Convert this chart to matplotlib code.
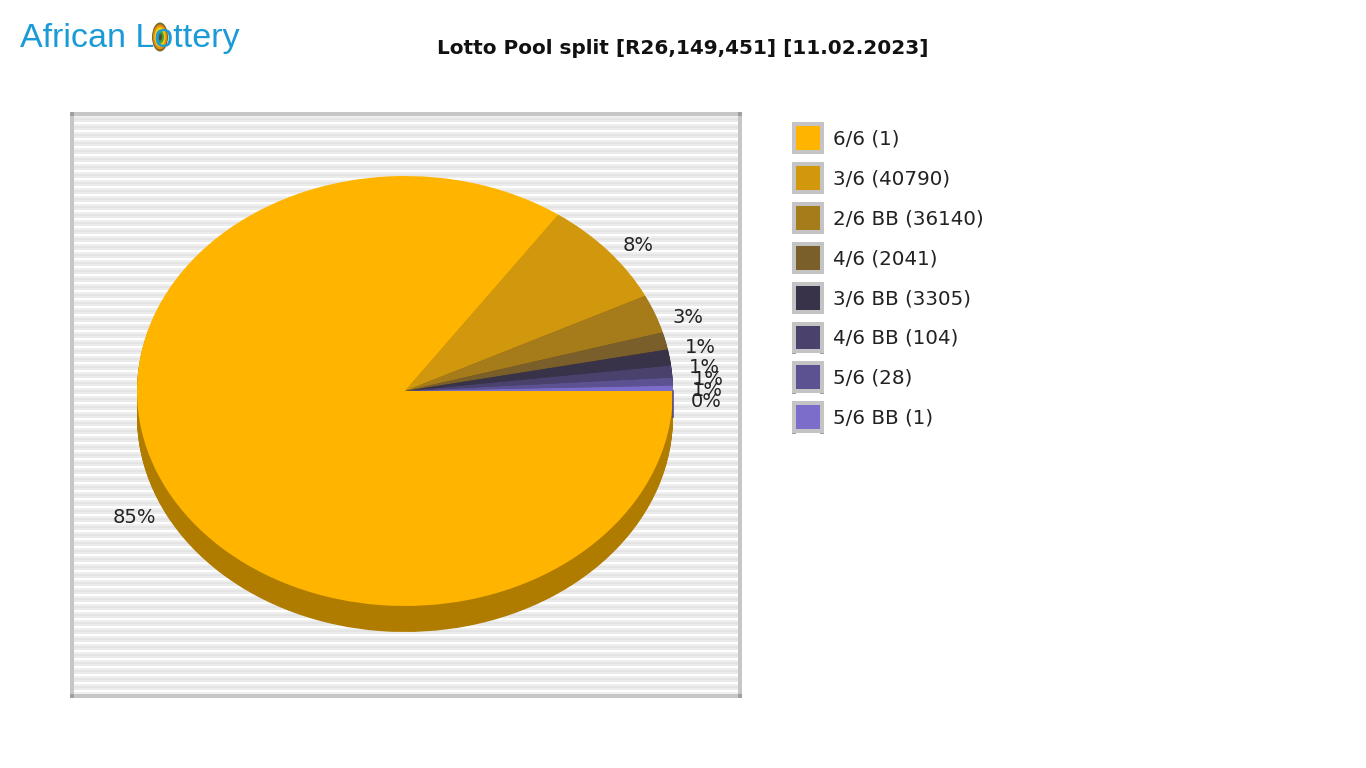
import matplotlib
matplotlib.use("Agg")
import matplotlib.pyplot as plt
from matplotlib.patches import Ellipse, Patch, Rectangle
from matplotlib.transforms import IdentityTransform
import numpy as np

title = "Lotto Pool split [R26,149,451] [11.02.2023]"
categories = ["6/6", "3/6", "2/6 BB", "4/6", "3/6 BB", "4/6 BB", "5/6", "5/6 BB"]
winners = [1, 40790, 36140, 2041, 3305, 104, 28, 1]
shares = [84.7, 8.0, 2.9, 1.3, 1.2, 0.9, 0.6, 0.4]
colors = ["#FFB400", "#D2980D", "#A67B1A", "#7A5F2B",
          "#383348", "#4A416C", "#5C5292", "#7C6DCB"]

# label offsets from the wedge edge, in pixels
label_offsets = [(-33, -27), (30, 5), (33, -4), (35, -7),
                 (35, -10), (36, -8), (35, -9), (33, -13)]

W, H = 1366, 768
cx, cy, rx, ry = 405, 391, 268, 215
depth = 26


def box(left, top, right, bottom):
    return [left / W, 1 - bottom / H, (right - left) / W, (bottom - top) / H]


def corner(x0, y0):
    return Rectangle((x0, H - y0 - 4), 4, 4, color="#A0A0A0", lw=0,
                     transform=IdentityTransform())


def main():
    fig = plt.figure(figsize=(W / 100, H / 100), dpi=100)
    fig.patch.set_facecolor("white")

    # striped plot background
    bg = fig.add_axes(box(72, 114, 740, 696))
    bg.set_xlim(72, 740)
    bg.set_ylim(696, 114)
    bg.set_xticks([])
    bg.set_yticks([])
    for side in bg.spines.values():
        side.set_color("#C6C6C6")
        side.set_linewidth(2.88)
    for y in np.arange(114, 696, 8):
        bg.axhspan(y, y + 2, color="#FFFFFF", lw=0)
        bg.axhspan(y + 2, y + 4, color="#EFEFEF", lw=0)
        bg.axhspan(y + 4, y + 6, color="#E4E4E4", lw=0)
        bg.axhspan(y + 6, y + 8, color="#EBEBEB", lw=0)

    # darker corners on the frame
    for x0, y0 in [(70, 112), (738, 112), (70, 694), (738, 694)]:
        fig.add_artist(corner(x0, y0))

    ax = fig.add_axes(box(72, 114, 740, 696))

    # side of the pie: same pie repeated downwards in darker colours
    dark = [tuple(0.69 * c for c in matplotlib.colors.to_rgb(col)) for col in colors]
    for shift in range(depth, 0, -1):
        ax.pie(shares, colors=dark, startangle=0, counterclock=False,
               center=(0, -shift / ry), radius=1)

    wedges, _ = ax.pie(shares, colors=colors, startangle=0, counterclock=False,
                       center=(0, 0), radius=1)

    # thin edge of the last slice shows at the far right
    ax.plot([1, 1], [0, -depth / ry], color=dark[-1], lw=1.2)

    ax.set_aspect("auto")
    ax.set_xlim((72 - cx) / rx, (740 - cx) / rx)
    ax.set_ylim((cy - 696) / ry, (cy - 114) / ry)

    for w, share, off in zip(wedges, shares, label_offsets):
        mid = np.deg2rad((w.theta1 + w.theta2) / 2)
        ax.annotate("%d%%" % round(share), xy=(np.cos(mid), np.sin(mid)),
                    xytext=off, textcoords="offset pixels",
                    ha="center", va="center", fontsize=14, color="#222222")

    # legend
    handles = [Patch(facecolor=c, edgecolor="#C4C4C4", linewidth=2.88) for c in colors]
    labels = ["%s (%d)" % (c, n) for c, n in zip(categories, winners)]
    fig.legend(handles, labels, loc="upper left",
               bbox_to_anchor=(794 / W, 1 - 124 / H), frameon=False,
               fontsize=14.35, labelcolor="#222222", borderpad=0, borderaxespad=0,
               handlelength=1.405, handleheight=1.78, handletextpad=0.57,
               labelspacing=0.6)
    for i in range(len(categories)):
        for x0 in (792, 820):
            for y0 in (122 + 40 * i, 150 + 40 * i):
                fig.add_artist(corner(x0, y0))

    fig.text(683 / W, 1 - 48 / H, title, ha="center", va="center",
             fontsize=14.4, fontweight="bold", color="#111111")

    # logo
    fig.text(20 / W, 1 - 47 / H, "African Lottery", ha="left", va="baseline",
             family=["Liberation Sans", "DejaVu Sans"], fontsize=24.5,
             color="#1A9BD7")
    for w_, h_, c in [(16, 29, "#7A6A20"), (14, 25, "#E88A10"), (11, 20, "#E8D010"),
                      (8, 13, "#40A040"), (4, 7, "#5A4A20")]:
        fig.add_artist(Ellipse((160, H - 37), w_, h_, color=c, lw=0,
                               transform=IdentityTransform()))

    fig.savefig("out.png", dpi=100)


if __name__ == "__main__":
    main()
